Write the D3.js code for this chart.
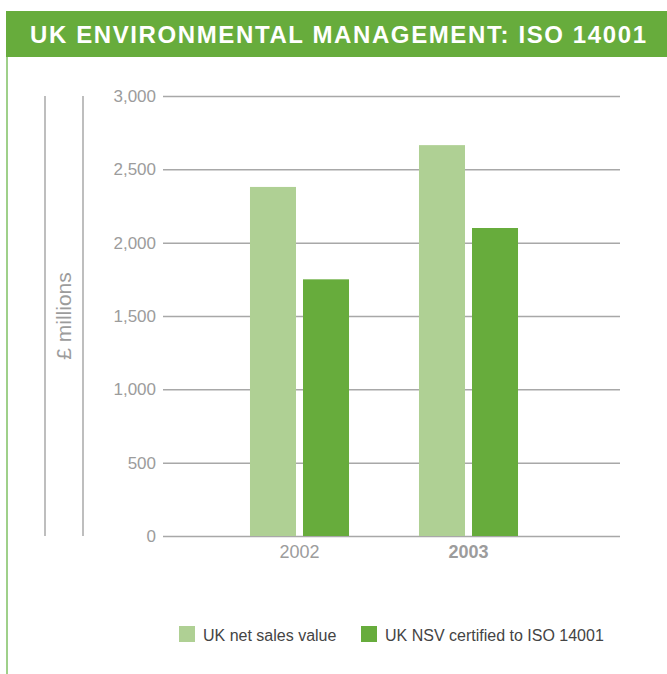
<!DOCTYPE html>
<html>
<head>
<meta charset="utf-8">
<script src="https://cdn.jsdelivr.net/npm/d3@7"></script>
<style>
    body { margin: 0; background: #fff; }
    svg { display: block; font-family: "Liberation Sans", Arial, sans-serif; }
</style>
</head>
<body>
<script>
const title = "UK ENVIRONMENTAL MANAGEMENT: ISO 14001";
const years = ["2002", "2003"];
const seriesNames = ["UK net sales value", "UK NSV certified to ISO 14001"];
const netSales = [2380, 2665];
const certified = [1750, 2100];
const yTicks = [0, 500, 1000, 1500, 2000, 2500, 3000];
const yLabel = "£ millions";

const w = 667, h = 674;
const green = "#67ac3c", lightGreen = "#afd094";

const svg = d3.select("body").append("svg")
    .attr("width", w).attr("height", h);

// banner + left rule
svg.append("rect")
    .attr("x", 6).attr("y", 11).attr("width", w - 6).attr("height", 46)
    .attr("fill", green);
svg.append("text")
    .attr("x", 30).attr("y", 43)
    .attr("textLength", 616).attr("lengthAdjust", "spacing")
    .attr("fill", "#fff").attr("font-size", 24).attr("font-weight", "bold")
    .text(title);
svg.append("line")
    .attr("x1", 7).attr("x2", 7).attr("y1", 57).attr("y2", h)
    .attr("stroke", "#9fd08a").attr("stroke-width", 2);

const left = 163, right = 620;

const yScale = d3.scaleLinear().domain([0, 3000]).range([536, 96]);

const x0 = d3.scaleBand().domain(years).range([215, 553])
    .paddingInner(0.414).paddingOuter(0.207);
const x1 = d3.scaleBand().domain(seriesNames).range([0, x0.bandwidth()])
    .paddingInner(0.132);
const color = d3.scaleOrdinal().domain(seriesNames).range([lightGreen, green]);

// y axis with gridlines
const yAxis = d3.axisLeft(yScale).tickValues(yTicks)
    .tickFormat(d3.format(",")).tickSize(-(right - left)).tickPadding(7);
const yg = svg.append("g").attr("transform", "translate(" + left + ",0)").call(yAxis);
yg.select(".domain").remove();
yg.selectAll(".tick line").attr("stroke", "#a8a8a8").attr("stroke-width", 1.5);
yg.selectAll(".tick text").attr("fill", "#9c9c9c").attr("font-size", 17)
    .attr("font-family", "Liberation Sans, Arial, sans-serif");

// bars
const rows = years.map((y, i) => ({ year: y, values: [netSales[i], certified[i]] }));
svg.selectAll("g.group")
    .data(rows)
    .enter()
    .append("g")
    .attr("class", "group")
    .attr("transform", (d) => "translate(" + x0(d.year) + ",0)")
    .selectAll("rect")
    .data((d) => d.values.map((v, j) => ({ name: seriesNames[j], value: v })))
    .enter()
    .append("rect")
    .attr("x", (d) => x1(d.name))
    .attr("y", (d) => yScale(d.value))
    .attr("width", x1.bandwidth())
    .attr("height", (d) => yScale(0) - yScale(d.value))
    .attr("fill", (d) => color(d.name));

// x axis
const xAxis = d3.axisBottom(x0).tickSize(0).tickPadding(9);
const xg = svg.append("g").attr("transform", "translate(0," + yScale(0) + ")").call(xAxis);
xg.select(".domain").remove();
xg.selectAll(".tick text").attr("fill", "#9c9c9c").attr("font-size", 18)
    .attr("font-family", "Liberation Sans, Arial, sans-serif")
    .attr("font-weight", (d) => d === "2003" ? "bold" : "normal");

// y label with the two rules
[45, 83].forEach((x) => {
    svg.append("line")
        .attr("x1", x).attr("x2", x).attr("y1", 96).attr("y2", 536)
        .attr("stroke", "#a8a8a8").attr("stroke-width", 1.5);
});
svg.append("text")
    .attr("transform", "translate(71,316) rotate(-90)")
    .attr("text-anchor", "middle")
    .attr("fill", "#9c9c9c").attr("font-size", 21)
    .text(yLabel);

// legend
const legendX = [179, 361];
const legend = svg.selectAll("g.legend")
    .data(seriesNames)
    .enter()
    .append("g")
    .attr("class", "legend")
    .attr("transform", (d, i) => "translate(" + legendX[i] + ",626)");
legend.append("rect")
    .attr("width", 16).attr("height", 16)
    .attr("fill", (d) => color(d));
legend.append("text")
    .attr("x", 24).attr("y", 15)
    .attr("fill", "#444").attr("font-size", 16)
    .text((d) => d);
</script>
</body>
</html>
